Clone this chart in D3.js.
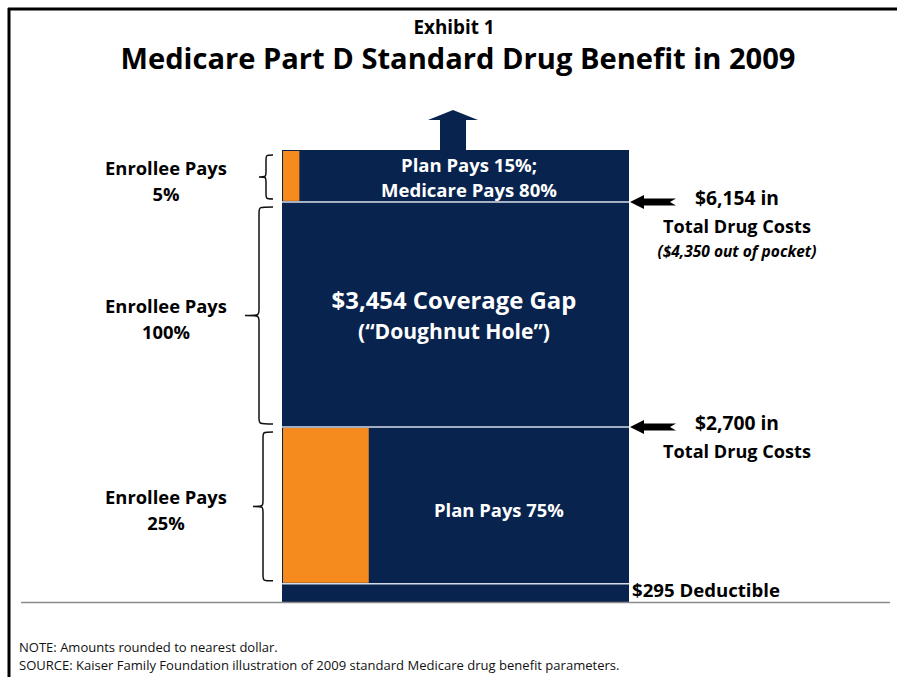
<!DOCTYPE html>
<html>
<head>
<meta charset="utf-8">
<script src="https://cdn.jsdelivr.net/npm/d3@7"></script>
<style>
  html, body { margin: 0; padding: 0; background: #fff; }
  svg { display: block; }
  text { font-family: "Open Sans", Lato, sans-serif; }
</style>
</head>
<body>
<svg id="chart" width="897" height="677"></svg>
<script>
// Benefit phases, bottom to top, in total drug spending ($)
const phases = ["Deductible", "Initial coverage", "Coverage gap", "Catastrophic"];
const phaseStart = [0, 295, 2700, 6154];
const phaseEnd = [295, 2700, 6154, 6950];
// Share of each phase paid by the enrollee that is shaded orange
const enrolleeShaded = [0, 0.25, 0, 0.05];

// Bracket labels on the left: the spending range they span and the share
const bracketFrom = [295, 2700, 6154];
const bracketTo = [2700, 6154, 6950];
const bracketShare = ["25%", "100%", "5%"];

// Threshold call-outs on the right
const thresholdValues = [2700, 6154];
const thresholdLabels = [["$2,700 in", "Total Drug Costs"], ["$6,154 in", "Total Drug Costs"]];
const outOfPocketNote = "($4,350 out of pocket)";

const navy = "#08234e";
const orange = "#f58a1f";

const svg = d3.select("#chart");

const y = d3.scaleLinear().domain([0, 6950]).range([603, 150]);
const x = d3.scaleLinear().domain([0, 1]).range([282, 629]);

// shrink or grow a text's font size so that it spans the given width
function fit(sel, width) {
  const node = sel.node();
  const size = parseFloat(sel.attr("font-size") || getComputedStyle(node).fontSize);
  const w = node.getComputedTextLength();
  if (w > 0) sel.attr("font-size", (size * width / w).toFixed(2));
  return sel;
}

// frame
svg.append("line").attr("x1", 9).attr("x2", 9).attr("y1", 8).attr("y2", 677)
  .attr("stroke", "#000").attr("stroke-width", 3);
svg.append("line").attr("x1", 8).attr("x2", 897).attr("y1", 9).attr("y2", 9)
  .attr("stroke", "#000").attr("stroke-width", 3);

// titles
fit(svg.append("text").attr("x", 454).attr("y", 34).attr("text-anchor", "middle")
  .attr("font-size", 17).attr("font-weight", 700).text("Exhibit 1"), 81);
fit(svg.append("text").attr("x", 458).attr("y", 69).attr("text-anchor", "middle")
  .attr("font-size", 28).attr("font-weight", 700)
  .text("Medicare Part D Standard Drug Benefit in 2009"), 675);

// phase bands
const idx = d3.range(phases.length);
svg.append("g").selectAll("rect").data(idx).join("rect")
  .attr("x", x(0)).attr("width", x(1) - x(0))
  .attr("y", i => y(phaseEnd[i])).attr("height", i => y(phaseStart[i]) - y(phaseEnd[i]))
  .attr("fill", navy);

// enrollee share
svg.append("g").selectAll("rect").data(idx.filter(i => enrolleeShaded[i] > 0)).join("rect")
  .attr("x", x(0) + 1).attr("width", i => x(enrolleeShaded[i]) - x(0) - 1)
  .attr("y", i => y(phaseEnd[i]) + 1).attr("height", i => y(phaseStart[i]) - y(phaseEnd[i]) - 2)
  .attr("fill", orange);

// separators between phases
svg.append("g").selectAll("line").data(phaseStart.slice(1)).join("line")
  .attr("x1", x(0)).attr("x2", x(1)).attr("y1", d => y(d)).attr("y2", d => y(d))
  .attr("stroke", "#d6dde8").attr("stroke-width", 1.5);

// baseline
svg.append("line").attr("x1", 21).attr("x2", 890).attr("y1", 602.5).attr("y2", 602.5)
  .attr("stroke", "#8a8a8a").attr("stroke-width", 1.5);

// upward arrow above the catastrophic phase
const topY = y(6950);
const ax = 453;
svg.append("path")
  .attr("d", `M${ax - 13},${topY} L${ax - 13},${topY - 30} L${ax - 25},${topY - 30} L${ax},${topY - 40} L${ax + 25},${topY - 30} L${ax + 13},${topY - 30} L${ax + 13},${topY} Z`)
  .attr("fill", navy);

// text inside the bar
const white = svg.append("g").attr("fill", "#fff").attr("font-weight", 700).attr("text-anchor", "middle");
fit(white.append("text").attr("x", 469).attr("y", 172).attr("font-size", 17).text("Plan Pays 15%;"), 136);
fit(white.append("text").attr("x", 469).attr("y", 197).attr("font-size", 17).text("Medicare Pays 80%"), 176);
fit(white.append("text").attr("x", 454).attr("y", 309).attr("font-size", 21).text("$3,454 Coverage Gap"), 245);
fit(white.append("text").attr("x", 454).attr("y", 339).attr("font-size", 21).text("(\u201cDoughnut Hole\u201d)"), 192);
fit(white.append("text").attr("x", 499).attr("y", 517).attr("font-size", 17).text("Plan Pays 75%"), 130);

// left curly braces and labels
function brace(x0, y0, y1, depth) {
  const m = (y0 + y1) / 2, r = 6;
  const xi = x0 - depth / 2;
  return `M${x0},${y0} C${xi},${y0} ${xi},${y0} ${xi},${y0 + r}` +
    ` L${xi},${m - r} C${xi},${m} ${xi},${m} ${x0 - depth},${m}` +
    ` C${xi},${m} ${xi},${m} ${xi},${m + r}` +
    ` L${xi},${y1 - r} C${xi},${y1} ${xi},${y1} ${x0},${y1}`;
}
const bracketDepth = [20, 28, 14];
bracketFrom.forEach((f, i) => {
  const y0 = y(bracketTo[i]) + 5, y1 = y(f) - 3;
  svg.append("path").attr("d", brace(273, y0, y1, bracketDepth[i]))
    .attr("fill", "none").attr("stroke", "#111").attr("stroke-width", 1.5);
  const mid = (y0 + y1) / 2;
  const g = svg.append("g").attr("font-weight", 700).attr("text-anchor", "middle");
  const t1 = fit(g.append("text").attr("x", 166).attr("y", mid - 2).attr("font-size", 17).text("Enrollee Pays"), 122);
  g.append("text").attr("x", 166).attr("y", mid + 24).attr("font-size", t1.attr("font-size")).text(bracketShare[i]);
});

// right threshold arrows and labels
thresholdValues.forEach((v, i) => {
  const ty = y(v);
  const x0 = x(1) + 1;
  svg.append("path")
    .attr("d", `M${x0},${ty} L${x0 + 14},${ty - 7} L${x0 + 14},${ty - 3.5} L${x0 + 46},${ty - 3.5} L${x0 + 40},${ty} L${x0 + 46},${ty + 3.5} L${x0 + 14},${ty + 3.5} L${x0 + 14},${ty + 7} Z`)
    .attr("fill", "#000");
  const g = svg.append("g").attr("font-weight", 700).attr("text-anchor", "middle");
  fit(g.append("text").attr("x", 737).attr("y", ty + 3).attr("font-size", 19).text(thresholdLabels[i][0]), 84);
  fit(g.append("text").attr("x", 737).attr("y", ty + 31).attr("font-size", 19).text(thresholdLabels[i][1]), 148);
  if (v === 6154) {
    fit(g.append("text").attr("x", 737).attr("y", ty + 55).attr("font-size", 13)
      .attr("font-style", "italic").text(outOfPocketNote), 159);
  }
});

fit(svg.append("text").attr("x", 632).attr("y", 597).attr("font-size", 19).attr("font-weight", 700)
  .text("$" + phaseEnd[0] + " Deductible"), 148);

// notes
const notes = svg.append("g").attr("fill", "#111");
fit(notes.append("text").attr("x", 19).attr("y", 652).attr("font-size", 12)
  .text("NOTE:  Amounts rounded to nearest dollar."), 259);
fit(notes.append("text").attr("x", 19).attr("y", 670).attr("font-size", 12)
  .text("SOURCE:  Kaiser Family Foundation illustration of 2009 standard Medicare drug benefit parameters."), 601);
</script>
</body>
</html>
